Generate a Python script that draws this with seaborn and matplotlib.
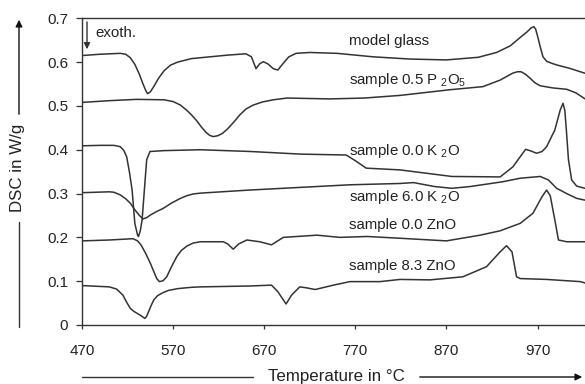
import matplotlib
matplotlib.use("Agg")
import matplotlib.pyplot as plt
import seaborn as sns
import pandas as pd

# --- DSC traces (temperature in °C, heat flow in W/g) ---
model_glass_T = [470, 490, 512, 518, 523, 528, 533, 537, 540, 542, 545, 549, 554, 560, 567,
                 575, 590, 610, 630, 650, 656, 661, 665, 669, 674, 680, 685, 690, 697, 705,
                 720, 750, 790, 830, 870, 905, 925, 940, 952, 958, 963, 966, 968, 970, 973,
                 976, 980, 986, 992, 1005, 1023]
model_glass_V = [0.615, 0.618, 0.620, 0.618, 0.610, 0.595, 0.572, 0.550, 0.535, 0.528, 0.532,
                 0.545, 0.563, 0.580, 0.593, 0.600, 0.608, 0.612, 0.616, 0.619, 0.612, 0.585,
                 0.596, 0.601, 0.596, 0.585, 0.582, 0.595, 0.612, 0.620, 0.622, 0.620, 0.612,
                 0.607, 0.605, 0.611, 0.622, 0.637, 0.658, 0.668, 0.678, 0.681, 0.675, 0.660,
                 0.635, 0.612, 0.602, 0.597, 0.593, 0.586, 0.574]

p2o5_T = [470, 500, 530, 560, 570, 578, 585, 590, 596, 601, 606, 610, 614, 619, 624, 630,
          637, 643, 650, 658, 668, 680, 695, 742, 780, 819, 874, 910, 929, 943, 948, 952,
          957, 962, 967, 973, 987, 1002, 1012, 1023]
p2o5_V = [0.508, 0.512, 0.515, 0.514, 0.510, 0.502, 0.490, 0.480, 0.466, 0.452, 0.440, 0.433,
          0.430, 0.432, 0.437, 0.448, 0.464, 0.479, 0.493, 0.502, 0.509, 0.514, 0.518, 0.516,
          0.518, 0.524, 0.537, 0.544, 0.559, 0.575, 0.578, 0.578, 0.572, 0.563, 0.553, 0.546,
          0.541, 0.538, 0.530, 0.515]

k2o_00_T = [470, 490, 505, 512, 516, 519, 522, 525, 528, 531, 532, 534, 536, 539, 541, 544.6,
            560, 600, 655, 710, 760, 770, 782, 819, 876, 929, 943, 951, 957, 963, 969, 975,
            980, 989, 995, 998, 1000, 1001.5, 1004, 1007.5, 1013, 1022]
k2o_00_V = [0.409, 0.410, 0.410, 0.407, 0.398, 0.384, 0.350, 0.308, 0.232, 0.205, 0.202, 0.215,
            0.240, 0.323, 0.377, 0.396, 0.398, 0.400, 0.396, 0.390, 0.388, 0.375, 0.358, 0.354,
            0.339, 0.338, 0.361, 0.384, 0.401, 0.397, 0.392, 0.396, 0.407, 0.445, 0.491, 0.506,
            0.490, 0.450, 0.377, 0.331, 0.317, 0.312]

k2o_60_T = [470, 500, 505, 512, 518, 523, 528, 533, 537, 541, 545, 552, 559, 568, 578, 585,
            592, 600, 654, 709, 764, 819, 834, 857, 876, 896, 932, 951, 973, 982, 991, 1002,
            1013, 1022]
k2o_60_V = [0.302, 0.304, 0.303, 0.297, 0.288, 0.278, 0.263, 0.250, 0.242, 0.245, 0.251, 0.259,
            0.266, 0.278, 0.289, 0.295, 0.299, 0.301, 0.308, 0.314, 0.320, 0.323, 0.325, 0.316,
            0.312, 0.316, 0.327, 0.335, 0.339, 0.331, 0.312, 0.300, 0.289, 0.285]

zno_00_T = [470, 500, 526, 531, 535, 540, 545, 549, 552, 555, 559, 563, 568, 574, 579, 585,
            592, 600, 625, 630, 636, 642, 651, 665, 678, 691, 728, 753, 783, 819, 870, 907,
            929, 951, 965, 975, 980, 984, 989, 993, 1002, 1022]
zno_00_V = [0.192, 0.194, 0.197, 0.192, 0.182, 0.163, 0.141, 0.121, 0.106, 0.099, 0.101, 0.110,
            0.132, 0.156, 0.170, 0.180, 0.187, 0.190, 0.190, 0.185, 0.173, 0.185, 0.194, 0.190,
            0.183, 0.200, 0.205, 0.200, 0.202, 0.198, 0.192, 0.205, 0.215, 0.232, 0.255, 0.293,
            0.308, 0.295, 0.240, 0.194, 0.190, 0.190]

zno_83_T = [470, 500, 508, 515, 519, 523, 527, 531, 535, 539, 541, 543, 546, 549, 553, 559,
            565, 575, 590, 600, 654, 678, 685, 694, 700, 709, 716, 726, 746, 764, 797, 819,
            852, 888, 914, 929, 936, 942, 947, 951, 980, 1017, 1022]
zno_83_V = [0.090, 0.087, 0.082, 0.068, 0.052, 0.038, 0.031, 0.026, 0.021, 0.015, 0.020, 0.030,
            0.045, 0.058, 0.067, 0.074, 0.079, 0.083, 0.086, 0.087, 0.089, 0.091, 0.076, 0.048,
            0.068, 0.087, 0.085, 0.081, 0.091, 0.099, 0.099, 0.104, 0.103, 0.110, 0.133, 0.167,
            0.181, 0.167, 0.110, 0.106, 0.104, 0.099, 0.096]

series = {
    "model glass": (model_glass_T, model_glass_V),
    "sample 0.5 P2O5": (p2o5_T, p2o5_V),
    "sample 0.0 K2O": (k2o_00_T, k2o_00_V),
    "sample 6.0 K2O": (k2o_60_T, k2o_60_V),
    "sample 0.0 ZnO": (zno_00_T, zno_00_V),
    "sample 8.3 ZnO": (zno_83_T, zno_83_V),
}

x_ticks = [470, 570, 670, 770, 870, 970]
y_ticks = [0, 0.1, 0.2, 0.3, 0.4, 0.5, 0.6, 0.7]
y_ticklabels = ["0", "0.1", "0.2", "0.3", "0.4", "0.5", "0.6", "0.7"]

frames = [pd.DataFrame({"T": t, "DSC": v, "sample": name}) for name, (t, v) in series.items()]
df = pd.concat(frames, ignore_index=True)

sns.set_style("ticks")
plt.rcParams["font.family"] = ["Liberation Sans", "DejaVu Sans"]
plt.rcParams["mathtext.fontset"] = "custom"
plt.rcParams["mathtext.rm"] = "Liberation Sans"
plt.rcParams["mathtext.default"] = "regular"

ink = "#333333"
W, H = 585, 384
fig = plt.figure(figsize=(W / 100, H / 100), dpi=100)
ax = fig.add_axes([82 / W, 1 - 325 / H, (W - 82) / W, (325 - 18.3) / H])

sns.lineplot(data=df, x="T", y="DSC", units="sample", estimator=None, sort=False,
             color=ink, linewidth=1.1, ax=ax, legend=False)

ax.set_xlim(470, 470 + (W - 82) / 0.911)
ax.set_ylim(0, 0.7)
ax.set_xticks(x_ticks)
ax.set_yticks(y_ticks)
ax.set_yticklabels(y_ticklabels)
ax.set_xlabel("")
ax.set_ylabel("")
for side in ("left", "bottom", "top"):
    ax.spines[side].set_color(ink)
    ax.spines[side].set_linewidth(1.0)
ax.spines["right"].set_visible(False)
ax.tick_params(axis="y", direction="out", length=4, width=0.9, pad=6,
               labelsize=11, colors=ink, labelcolor="#222222")
ax.tick_params(axis="x", direction="out", length=3, width=0.9, pad=10.5,
               labelsize=11, colors=ink, labelcolor="#222222")

# curve labels
lab_x = 763
labels = [
    ("model glass", 0.649),
    ("sample 0.5 P $_2$O$_5$", 0.559),
    ("sample 0.0 K $_2$O", 0.398),
    ("sample 6.0 K $_2$O", 0.293),
    ("sample 0.0 ZnO", 0.228),
    ("sample 8.3 ZnO", 0.135),
]
for txt, yv in labels:
    ax.text(lab_x, yv, txt, fontsize=10.8, color="#222222", ha="left", va="center")

# exothermic direction marker
ax.annotate("", xy=(475.5, 0.623), xytext=(475.5, 0.698),
            arrowprops=dict(arrowstyle="-|>", color=ink, lw=1.0, mutation_scale=9))
ax.text(485, 0.666, "exoth.", fontsize=10.8, color="#222222", ha="left", va="center")

# y-axis title with direction line
fig.text(18 / W, 1 - 168 / H, "DSC in W/g", rotation=90, fontsize=12.2,
         color="#222222", ha="center", va="center")
fig.add_artist(plt.Line2D([19 / W, 19 / W], [1 - 222 / H, 1 - 327 / H],
                          color=ink, lw=1.0))
ax.annotate("", xy=(19 / W, 1 - 17 / H), xytext=(19 / W, 1 - 117 / H),
            xycoords="figure fraction", textcoords="figure fraction",
            arrowprops=dict(arrowstyle="-|>", color="#111111", lw=1.0, mutation_scale=10))

# x-axis title with direction line
fig.text(336 / W, 1 - 376 / H, "Temperature in °C", fontsize=12.2,
         color="#222222", ha="center", va="center")
fig.add_artist(plt.Line2D([82 / W, 253 / W], [1 - 377 / H, 1 - 377 / H],
                          color=ink, lw=1.0))
ax.annotate("", xy=(585 / W, 1 - 377 / H), xytext=(417 / W, 1 - 377 / H),
            xycoords="figure fraction", textcoords="figure fraction",
            arrowprops=dict(arrowstyle="-|>", color="#111111", lw=1.0, mutation_scale=10))

fig.savefig("out.png", dpi=100)
